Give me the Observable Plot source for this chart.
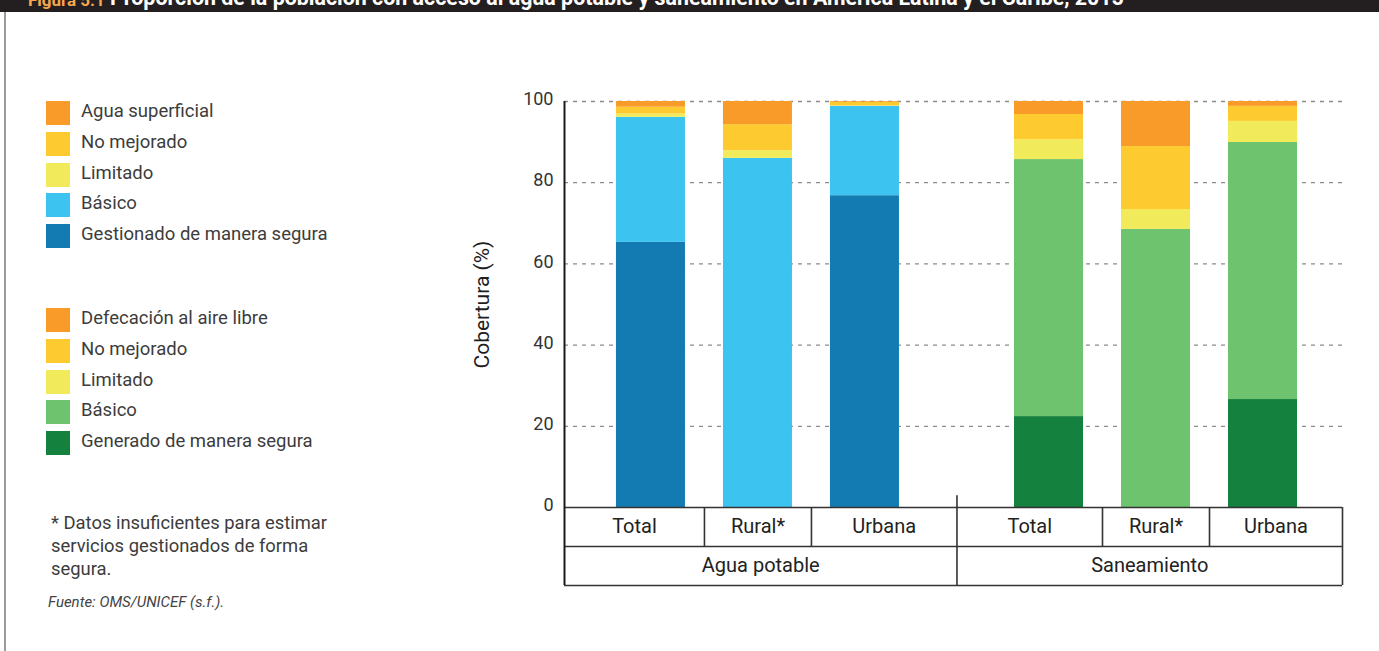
<!DOCTYPE html>
<html>
<head>
<meta charset="utf-8">
<script src="https://cdn.jsdelivr.net/npm/d3@7"></script>
<script src="https://cdn.jsdelivr.net/npm/@observablehq/plot@0.6"></script>
<style>
  html, body { margin: 0; padding: 0; background: #fff; }
  body { width: 1379px; height: 651px; overflow: hidden; position: relative; font-family: Roboto, "Noto Sans", sans-serif; }
  #titlebar { position: absolute; left: 0; top: 0; width: 1379px; height: 12px; background: #231f20; overflow: hidden; z-index: 3; }
  #titlebar span { position: absolute; line-height: 24px; font-weight: 700; white-space: nowrap; }
  #fig { position: absolute; left: 0; top: 0; z-index: 1; }
  #border { position: absolute; left: 4px; top: 12px; bottom: 0; width: 2px; background: #9a9a9a; z-index: 2; }
  .lg { position: absolute; left: 46px; height: 24px; display: flex; align-items: flex-start; z-index: 2; }
  .lg i { display: block; width: 24px; height: 24px; }
  .lg span { position: relative; left: 11px; top: -2px; line-height: 24px; font-size: 18.5px; color: #3c3c3c; white-space: nowrap; }
  #note { position: absolute; left: 51px; top: 511px; font-size: 18.4px; line-height: 23px; color: #3c3c3c; z-index: 2; }
  #src { position: absolute; left: 48px; top: 594px; font-size: 15px; line-height: 16px; font-style: italic; color: #444; z-index: 2; }
</style>
</head>
<body>
<div id="titlebar"><span style="left:28px;top:-12.5px;font-size:17px;color:#f6a64c">Figura 5.1</span><span id="ttl" style="left:110px;top:-14px;font-size:21.4px;color:#fff">Proporción de la población con acceso al agua potable y saneamiento en América Latina y el Caribe, 2015</span></div>
<div id="border"></div>
<div id="legend"></div>
<div id="note">* Datos insuficientes para estimar<br>servicios gestionados de forma<br>segura.</div>
<div id="src">Fuente: OMS/UNICEF (s.f.).</div>
<div id="fig"></div>
<script>
// ---- data ----
const groups = ["Agua potable", "Saneamiento"];
const categories = ["Total", "Rural*", "Urbana"];
// levels listed bottom -> top of the stack
const waterLevels = ["Gestionado de manera segura", "Básico", "Limitado", "No mejorado", "Agua superficial"];
const sanLevels = ["Generado de manera segura", "Básico", "Limitado", "No mejorado", "Defecación al aire libre"];
const waterColors = ["#137bb1", "#3dc3f0", "#f1eb5c", "#fdcb30", "#f89b28"];
const sanColors = ["#15813e", "#6ec36f", "#f1eb5c", "#fdcb30", "#f89b28"];
// values (%), same order as the levels
const waterTotal = [65.3, 30.8, 0.8, 1.7, 1.4];
const waterRural = [0, 86.0, 1.9, 6.4, 5.7];
const waterUrbana = [76.8, 22.0, 0.1, 0.9, 0.2];
const sanTotal = [22.4, 63.3, 4.9, 6.2, 3.2];
const sanRural = [0, 68.5, 4.9, 15.5, 11.1];
const sanUrbana = [26.6, 63.3, 5.2, 3.7, 1.2];
const yTicks = [0, 20, 40, 60, 80, 100];

// ---- build table ----
const series = [
  {group: 0, levels: waterLevels, colors: waterColors, values: [waterTotal, waterRural, waterUrbana]},
  {group: 1, levels: sanLevels, colors: sanColors, values: [sanTotal, sanRural, sanUrbana]}
];
const groupGap = 0.72, barHalf = 0.3225, padLeft = 0.808, padRight = 0.743;
const bars = [];
series.forEach(s => s.values.forEach((vals, ci) => {
  bars.push({group: groups[s.group], cat: categories[ci], pos: s.group * (categories.length + groupGap) + ci, s, vals});
}));
const xmin = bars[0].pos - padLeft, xmax = bars[bars.length - 1].pos + padRight;
bars.forEach((b, i) => {
  b.left = i === 0 ? xmin : (bars[i - 1].pos + b.pos) / 2;
  b.right = i === bars.length - 1 ? xmax : (b.pos + bars[i + 1].pos) / 2;
});
const segs = [];
const colorDomain = [], colorRange = [];
series.forEach(s => s.levels.forEach((l, li) => { colorDomain.push(s.group + "|" + l); colorRange.push(s.colors[li]); }));
bars.forEach(b => {
  let acc = 0;
  b.vals.forEach((v, li) => {
    segs.push({x1: b.pos - barHalf, x2: b.pos + barHalf, y1: acc, y2: acc + v, key: b.s.group + "|" + b.s.levels[li]});
    acc += v;
  });
});
// group spans
const groupSpans = groups.map(g => {
  const bs = bars.filter(b => b.group === g);
  return {name: g, left: bs[0].left, right: bs[bs.length - 1].right};
});
const row = (yTicks[yTicks.length - 1] - yTicks[0]) * 0.096;
const yBottom = -2 * row;
const innerDividers = bars.filter((b, i) => i > 0 && bars[i - 1].group === b.group).map(b => b.left);
const groupDividers = groupSpans.slice(1).map(g => g.left);

const ink = "#333";
const chart = Plot.plot({
  width: 1379, height: 651,
  marginLeft: 564, marginRight: 37, marginTop: 101, marginBottom: 66,
  style: {background: "transparent", fontFamily: "Roboto, sans-serif", fontSize: "18px", color: "#333"},
  x: {domain: [xmin, xmax], axis: null},
  y: {domain: [yBottom, yTicks[yTicks.length - 1]], axis: null},
  color: {domain: colorDomain, range: colorRange},
  marks: [
    Plot.ruleY(yTicks.slice(1), {x1: xmin, x2: xmax, stroke: "#8c8c8c", strokeWidth: 1.3, strokeDasharray: "4,5"}),
    Plot.rect(segs, {x1: "x1", x2: "x2", y1: "y1", y2: "y2", fill: "key"}),
    Plot.axisY(yTicks, {tickSize: 0, tickPadding: 11, label: null, fontSize: 18, dy: -2}),
    Plot.text(["Cobertura (%)"], {x: xmin, y: (yTicks[0] + yTicks[yTicks.length - 1]) / 2, rotate: -90, dx: -82, fontSize: 21, fill: "#1e1e1e", text: d => d}),
    // table
    Plot.ruleY([0, -row, yBottom], {x1: xmin, x2: xmax, stroke: ink, strokeWidth: 1.6}),
    Plot.ruleX([xmin], {y1: yBottom, y2: yTicks[yTicks.length - 1], stroke: "#1a1a1a", strokeWidth: 2}),
    Plot.ruleX([xmax], {y1: yBottom, y2: 0, stroke: ink, strokeWidth: 1.6}),
    Plot.ruleX(groupDividers, {y1: yBottom, y2: row * 0.3, stroke: ink, strokeWidth: 1.6}),
    Plot.ruleX(innerDividers, {y1: -row, y2: 0, stroke: ink, strokeWidth: 1.6}),
    Plot.text(bars, {x: d => (d.left + d.right) / 2, y: -row / 2, text: "cat", fontSize: 20, fill: "#222"}),
    Plot.text(groupSpans, {x: d => (d.left + d.right) / 2, y: -1.5 * row, text: "name", fontSize: 20, fill: "#222"})
  ]
});
document.getElementById("fig").appendChild(chart);

// ---- HTML legend ----
const legend = document.getElementById("legend");
const legendStarts = [101, 308], legendStep = 30.75;
series.forEach((s, si) => {
  const items = s.levels.map((l, i) => ({l, c: s.colors[i]})).reverse();
  items.forEach((it, i) => {
    const d = document.createElement("div");
    d.className = "lg";
    d.style.top = (legendStarts[si] + i * legendStep) + "px";
    d.innerHTML = `<i style="background:${it.c}"></i><span>${it.l}</span>`;
    legend.appendChild(d);
  });
});
</script>
</body>
</html>
